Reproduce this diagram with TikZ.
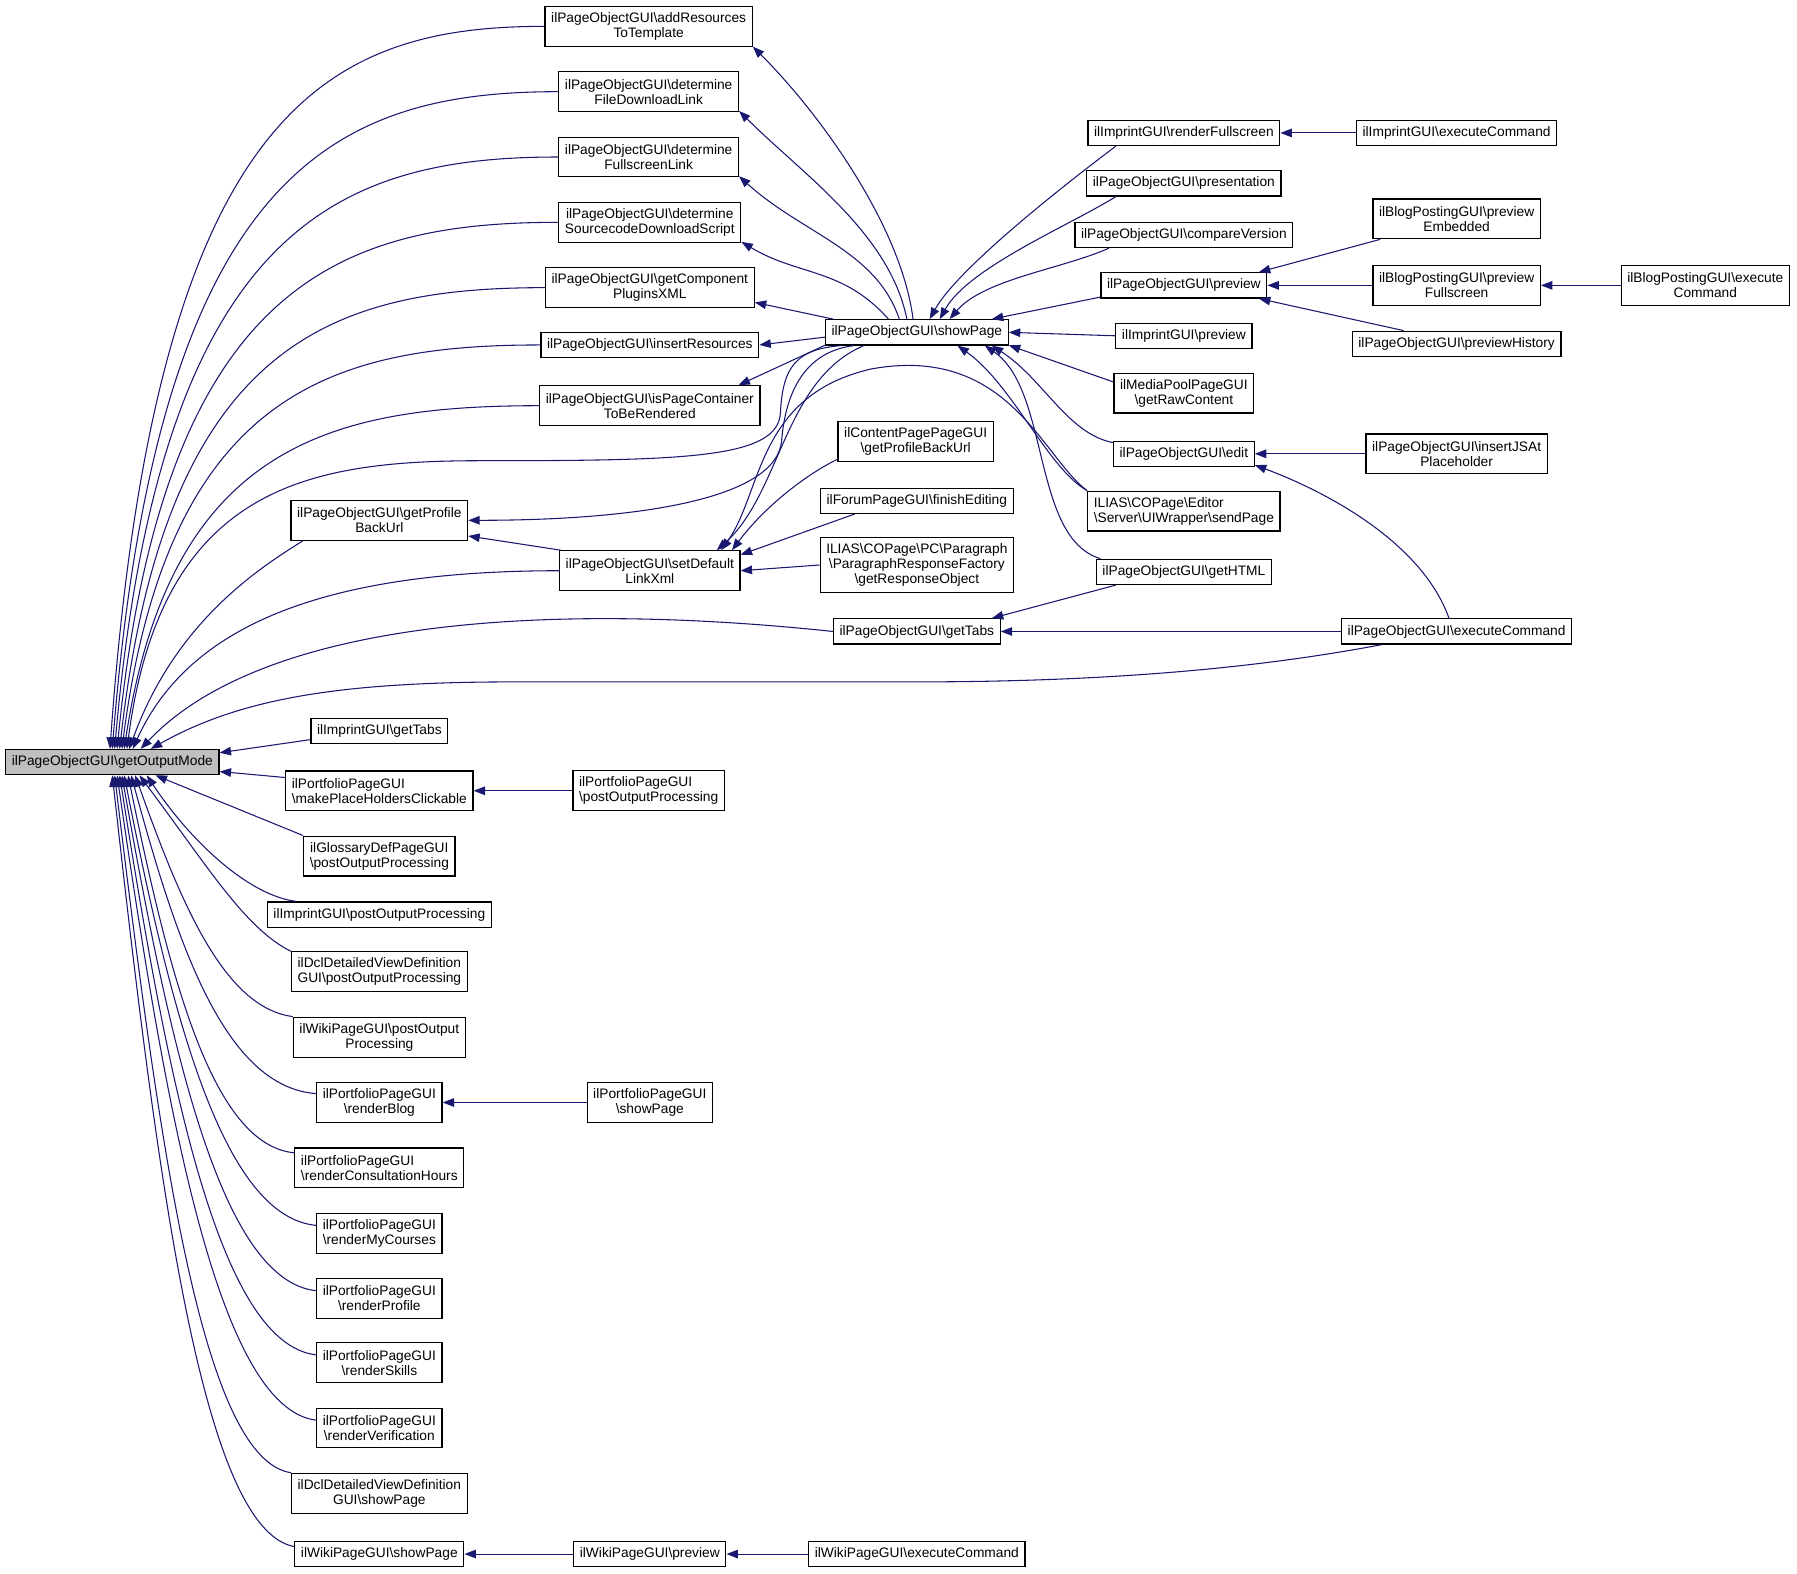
\documentclass[tikz,border=0pt]{standalone}
\usepackage{fontspec}
\setmainfont{Liberation Sans}
\usetikzlibrary{arrows.meta}
\definecolor{edgeblue}{RGB}{25,25,112}
\definecolor{modegray}{RGB}{191,191,191}
\newcommand{\bsl}{\textbackslash}

\begin{document}
\begin{tikzpicture}[x=0.75pt, y=-0.75pt,
    fn/.style = {draw, line width=0.8pt, fill=white, inner xsep=4pt, inner ysep=4pt,
      minimum height=16.5pt, align=center, font=\fontsize{9}{9.75}\selectfont},
    two/.style = {minimum height=26pt},
    flush/.style = {align=left},
    cur/.style = {fill=modegray},
    call/.style = {draw=edgeblue, line width=0.7pt, arrows={Triangle[length=7.5pt,width=5.6pt]-}}]
  \useasboundingbox (0,0) rectangle (1568,1373);

  % the function itself
  \node[fn, cur] (om) at (98,665) {ilPageObjectGUI\bsl getOutputMode};

  % callers, first level
  \node[fn, two] (addres) at (566,23) {ilPageObjectGUI\bsl addResources\\ToTemplate};
  \node[fn, two] (filedl) at (566,80) {ilPageObjectGUI\bsl determine\\FileDownloadLink};
  \node[fn, two] (fullscr) at (566,137) {ilPageObjectGUI\bsl determine\\FullscreenLink};
  \node[fn, two] (srcdl) at (567,194) {ilPageObjectGUI\bsl determine\\SourcecodeDownloadScript};
  \node[fn, two] (plugins) at (567,251) {ilPageObjectGUI\bsl getComponent\\PluginsXML};
  \node[fn] (insres) at (567,301) {ilPageObjectGUI\bsl insertResources};
  \node[fn, two] (ispc) at (567,354) {ilPageObjectGUI\bsl isPageContainer\\ToBeRendered};
  \node[fn, two] (profbu) at (331,454) {ilPageObjectGUI\bsl getProfile\\BackUrl};
  \node[fn, two] (setdlx) at (567,498) {ilPageObjectGUI\bsl setDefault\\LinkXml};
  \node[fn] (imptabs) at (331,638) {ilImprintGUI\bsl getTabs};
  \node[fn, two, flush] (mkph) at (331,690) {ilPortfolioPageGUI\\\bsl makePlaceHoldersClickable};
  \node[fn, two] (glpost) at (331,747) {ilGlossaryDefPageGUI\\\bsl postOutputProcessing};
  \node[fn] (imppost) at (331,798) {ilImprintGUI\bsl postOutputProcessing};
  \node[fn, two] (dclpost) at (331,848) {ilDclDetailedViewDefinition\\GUI\bsl postOutputProcessing};
  \node[fn, two] (wikipost) at (331,905) {ilWikiPageGUI\bsl postOutput\\Processing};
  \node[fn, two] (rblog) at (331,962) {ilPortfolioPageGUI\\\bsl renderBlog};
  \node[fn, two, flush] (rcons) at (331,1019) {ilPortfolioPageGUI\\\bsl renderConsultationHours};
  \node[fn, two] (rcourses) at (331,1076) {ilPortfolioPageGUI\\\bsl renderMyCourses};
  \node[fn, two] (rprofile) at (331,1133) {ilPortfolioPageGUI\\\bsl renderProfile};
  \node[fn, two] (rskills) at (331,1189) {ilPortfolioPageGUI\\\bsl renderSkills};
  \node[fn, two] (rverif) at (331,1246) {ilPortfolioPageGUI\\\bsl renderVerification};
  \node[fn, two] (dclshow) at (331,1303) {ilDclDetailedViewDefinition\\GUI\bsl showPage};
  \node[fn] (wikishow) at (331,1356) {ilWikiPageGUI\bsl showPage};

  % second level
  \node[fn] (showpg) at (800,290) {ilPageObjectGUI\bsl showPage};
  \node[fn, two] (cpprof) at (799,385) {ilContentPagePageGUI\\\bsl getProfileBackUrl};
  \node[fn] (finedit) at (800,437) {ilForumPageGUI\bsl finishEditing};
  \node[fn] (parresp) at (800,493) {ILIAS\bsl COPage\bsl PC\bsl Paragraph\\\bsl ParagraphResponseFactory\\\bsl getResponseObject};
  \node[fn] (gettabs) at (800,551) {ilPageObjectGUI\bsl getTabs};
  \node[fn, two, flush] (pfpost) at (566,690) {ilPortfolioPageGUI\\\bsl postOutputProcessing};
  \node[fn, two] (pfshow) at (567,962) {ilPortfolioPageGUI\\\bsl showPage};
  \node[fn] (wikiprev) at (567,1356) {ilWikiPageGUI\bsl preview};
  \node[fn] (wikiexec) at (800,1356) {ilWikiPageGUI\bsl executeCommand};

  % third level
  \node[fn] (rfull) at (1033,116) {ilImprintGUI\bsl renderFullscreen};
  \node[fn] (present) at (1033,160) {ilPageObjectGUI\bsl presentation};
  \node[fn] (compver) at (1033,205) {ilPageObjectGUI\bsl compareVersion};
  \node[fn] (preview) at (1033,249) {ilPageObjectGUI\bsl preview};
  \node[fn] (impprev) at (1033,293) {ilImprintGUI\bsl preview};
  \node[fn, two] (mpraw) at (1033,343) {ilMediaPoolPageGUI\\\bsl getRawContent};
  \node[fn] (edit) at (1033,396) {ilPageObjectGUI\bsl edit};
  \node[fn, two, flush] (sendpg) at (1033,446) {ILIAS\bsl COPage\bsl Editor\\\bsl Server\bsl UIWrapper\bsl sendPage};
  \node[fn] (gethtml) at (1033,499) {ilPageObjectGUI\bsl getHTML};

  % fourth level and beyond
  \node[fn] (impexec) at (1271,116) {ilImprintGUI\bsl executeCommand};
  \node[fn, two] (bpemb) at (1271,191) {ilBlogPostingGUI\bsl preview\\Embedded};
  \node[fn, two] (bpfull) at (1271,249) {ilBlogPostingGUI\bsl preview\\Fullscreen};
  \node[fn] (prevhist) at (1271,300) {ilPageObjectGUI\bsl previewHistory};
  \node[fn, two] (insjs) at (1271,396) {ilPageObjectGUI\bsl insertJSAt\\Placeholder};
  \node[fn] (exec) at (1271,551) {ilPageObjectGUI\bsl executeCommand};
  \node[fn, two] (bpexec) at (1488,249) {ilBlogPostingGUI\bsl execute\\Command};

  % calls into getOutputMode, upper fan
  \draw[call] (om.100) .. controls +(40,-560) and +(-190,0) .. (addres.west);
  \draw[call] (om.90) .. controls +(40,-505) and +(-195,0) .. (filedl.west);
  \draw[call] (om.80) .. controls +(40,-455) and +(-193,0) .. (fullscr.west);
  \draw[call] (om.70) .. controls +(40,-405) and +(-192,0) .. (srcdl.west);
  \draw[call] (om.61) .. controls +(40,-355) and +(-186,0) .. (plugins.west);
  \draw[call] (om.54) .. controls +(40,-310) and +(-183,0) .. (insres.west);
  \draw[call] (om.48) .. controls +(40,-265) and +(-182,0) .. (ispc.west);
  \draw[call] (om.42) .. controls +(30,-230) and +(-150,0) .. (420,402)
    .. controls +(180,0) and +(-2,40) .. (681,360)
    .. controls +(2,-40) and +(-40,3) .. (showpg.190);
  \draw[call] (om.38) .. controls +(40,-110) and +(-40,25) .. (profbu.195);
  \draw[call] (om.33) .. controls +(50,-110) and +(-200,0) .. (setdlx.west);
  \draw[call] (om.25) .. controls +(108,-114) and +(-245,-26) .. (gettabs.west);
  \draw[call] (om.19) .. controls +(80,-45) and +(-150,0) .. (450,595) -- (800,595)
    .. controls +(200,0) and +(-80,15) .. (exec.190);
  \draw[call] (om.5) -- (imptabs.187);
  \draw[call] (om.-5) -- (mkph.172);

  % calls into getOutputMode, lower fan
  \draw[call] (om.343) -- (glpost.north west);
  \draw[call] (om.339) .. controls +(40,60) and +(-40,-5) .. (imppost.171);
  \draw[call] (om.334) .. controls +(60,80) and +(-40,-20) .. (dclpost.north west);
  \draw[call] (om.330) .. controls +(40,112) and +(-60,-8) .. (wikipost.north west);
  \draw[call] (om.325) .. controls +(40,147) and +(-80,-6) .. (rblog.172);
  \draw[call] (om.320) .. controls +(36,175) and +(-72,-7) .. (rcons.170);
  \draw[call] (om.312) .. controls +(41,208) and +(-82,-8) .. (rcourses.173);
  \draw[call] (om.306) .. controls +(42,238) and +(-83,-9) .. (rprofile.173);
  \draw[call] (om.299) .. controls +(42,268) and +(-85,-10) .. (rskills.173);
  \draw[call] (om.290) .. controls +(43,298) and +(-85,-11) .. (rverif.173);
  \draw[call] (om.280) .. controls +(39,323) and +(-78,-12) .. (dclshow.north west);
  \draw[call] (om.270) .. controls +(40,360) and +(-80,-15) .. (wikishow.175);

  % showPage and its callees on the left
  \draw[call] (addres.-11) .. controls +(60,60) and +(-10,-80) .. (showpg.106);
  \draw[call] (filedl.-12) .. controls +(55,55) and +(-15,-75) .. (showpg.127);
  \draw[call] (fullscr.-12) .. controls +(55,50) and +(-20,-60) .. (showpg.143);
  \draw[call] (srcdl.-12) .. controls +(50,30) and +(-40,-45) .. (showpg.155);
  \draw[call] (plugins.-8) -- (showpg.171);
  \draw[call] (insres.east) -- (showpg.183);
  \draw[call] (ispc.13) -- (showpg.188);
  \draw[call] (profbu.east) .. controls +(150,0) and +(-5,50) .. (682,385)
    .. controls +(3,-40) and +(-45,5) .. (showpg.192);
  \draw[call] (profbu.-10) -- (setdlx.167);
  \draw[call] (setdlx.17) .. controls +(56,-50) and +(-70,30) .. (showpg.194);

  % callers of showPage
  \draw[call] (showpg.46) .. controls +(25,-45) and +(-40,30) .. (rfull.191);
  \draw[call] (showpg.30) .. controls +(25,-45) and +(-40,25) .. (present.191);
  \draw[call] (showpg.22) .. controls +(30,-35) and +(-40,18) .. (compver.190);
  \draw[call] (showpg.10) -- (preview.188);
  \draw[call] (showpg.east) -- (impprev.west);
  \draw[call] (showpg.-8) -- (mpraw.171);
  \draw[call] (showpg.-10) .. controls +(45,29) and +(-40,-8) .. (edit.171);
  \draw[call] (showpg.-11) .. controls +(57,39) and +(-60,-18) .. (gethtml.171);
  \draw[call] (showpg.-18) .. controls +(48,34) and +(-34,-19) .. (sendpg.168);

  % callers of setDefaultLinkXml
  \draw[call] (setdlx.14) .. controls +(30,-40) and +(-25,12) .. (cpprof.193);
  \draw[call] (setdlx.10) -- (finedit.192);
  \draw[call] (setdlx.east) -- (parresp.west);
  \draw[call] (setdlx.16) .. controls (665,430) and (660,345) .. (760,322)
    .. controls (880,300) and (910,400) .. (sendpg.168);

  % the rest
  \draw[call] (gettabs.10) -- (gethtml.191);
  \draw[call] (gettabs.east) -- (exec.west);
  \draw[call] (rfull.east) -- (impexec.west);
  \draw[call] (preview.10) -- (bpemb.195);
  \draw[call] (preview.east) -- (bpfull.west);
  \draw[call] (preview.-10) -- (prevhist.166);
  \draw[call] (bpfull.east) -- (bpexec.west);
  \draw[call] (edit.east) -- (insjs.west);
  \draw[call] (edit.-9) .. controls +(54,20) and +(-25,-70) .. (exec.120);
  \draw[call] (mkph.east) -- (pfpost.west);
  \draw[call] (rblog.east) -- (pfshow.west);
  \draw[call] (wikishow.east) -- (wikiprev.west);
  \draw[call] (wikiprev.east) -- (wikiexec.west);
\end{tikzpicture}
\end{document}
